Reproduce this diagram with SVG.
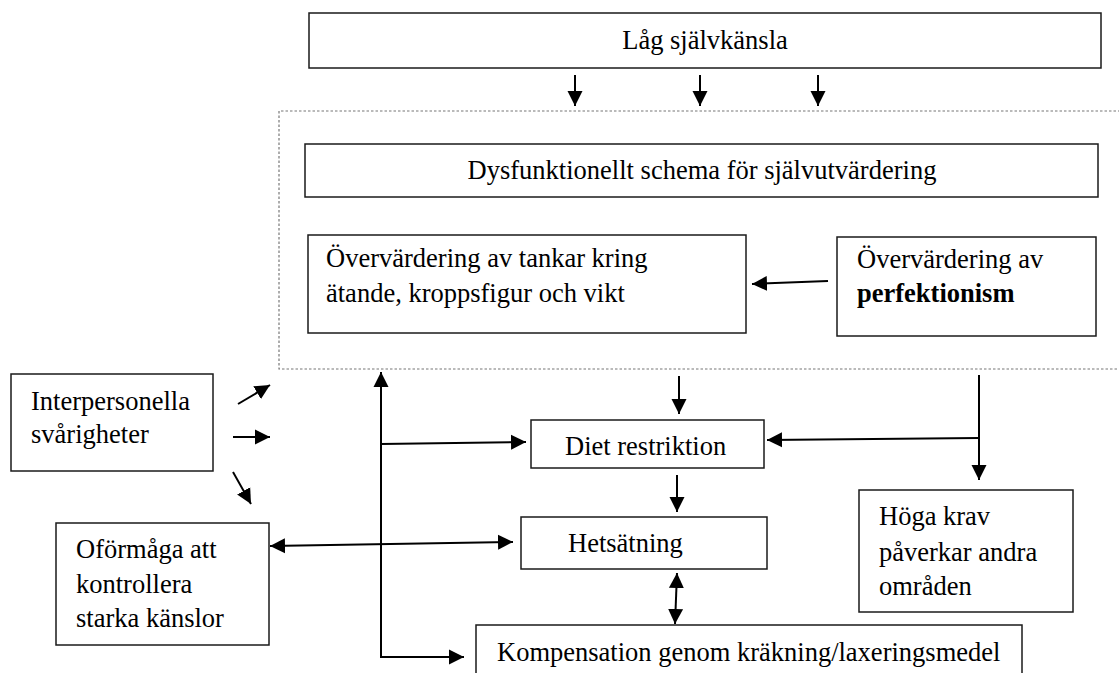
<svg xmlns="http://www.w3.org/2000/svg" width="1119" height="673" viewBox="0 0 1119 673">
<style>
.box{fill:#fff;stroke:#1a1a1a;stroke-width:1.5}
.t{font-family:"Liberation Serif","Times New Roman",serif;font-size:26.5px;fill:#000}
.c{text-anchor:middle}
.b{font-weight:bold}
.ln{fill:none;stroke:#000;stroke-width:2}
.dot{fill:none;stroke:#777;stroke-width:1.2;stroke-dasharray:2.5,2}
</style>
<defs>
<marker id="ah" markerUnits="userSpaceOnUse" markerWidth="16" markerHeight="16" viewBox="0 0 16 16" refX="15" refY="8" orient="auto">
<path d="M0,0.5 L15,8 L0,15.5 Z" fill="#000"/>
</marker>
<marker id="as" markerUnits="userSpaceOnUse" markerWidth="16" markerHeight="16" viewBox="0 0 16 16" refX="1" refY="8" orient="auto">
<path d="M16,0.5 L1,8 L16,15.5 Z" fill="#000"/>
</marker>
</defs>

<g id="group-dotted">
<path class="dot" d="M1125,111 L279,111 L279,369 L1125,369"/>
</g>

<g id="n-lag">
<rect class="box" x="309" y="13" width="792" height="55"/>
<text class="t c" x="705" y="49">Låg självkänsla</text>
</g>

<g id="n-dysf">
<rect class="box" x="305" y="144" width="793" height="53"/>
<text class="t c" x="702" y="179">Dysfunktionellt schema för självutvärdering</text>
</g>

<g id="n-overv-tankar">
<rect class="box" x="308" y="235" width="438" height="98"/>
<text class="t" x="326" y="267">Övervärdering av tankar kring</text>
<text class="t" x="326" y="302">ätande, kroppsfigur och vikt</text>
</g>

<g id="n-perf">
<rect class="box" x="837" y="237" width="259" height="99"/>
<text class="t" x="857" y="268">Övervärdering av</text>
<text class="t b" x="857" y="302">perfektionism</text>
</g>

<g id="n-inter">
<rect class="box" x="11" y="374" width="202" height="97"/>
<text class="t" x="31" y="410">Interpersonella</text>
<text class="t" x="31" y="443">svårigheter</text>
</g>

<g id="n-oform">
<rect class="box" x="56" y="523" width="213" height="122"/>
<text class="t" x="76" y="558">Oförmåga att</text>
<text class="t" x="76" y="593">kontrollera</text>
<text class="t" x="76" y="627">starka känslor</text>
</g>

<g id="n-diet">
<rect class="box" x="531" y="420" width="233" height="48"/>
<text class="t" x="565" y="455">Diet restriktion</text>
</g>

<g id="n-hets">
<rect class="box" x="521" y="517" width="246" height="52"/>
<text class="t" x="568" y="552">Hetsätning</text>
</g>

<g id="n-hoga">
<rect class="box" x="859" y="490" width="214" height="122"/>
<text class="t" x="879" y="525">Höga krav</text>
<text class="t" x="879" y="561">påverkar andra</text>
<text class="t" x="879" y="595">områden</text>
</g>

<g id="n-komp">
<rect class="box" x="476" y="625" width="546" height="60"/>
<text class="t" x="497" y="661">Kompensation genom kräkning/laxeringsmedel</text>
</g>

<g id="connectors">
<line class="ln" x1="575" y1="75" x2="575" y2="106" marker-end="url(#ah)"/>
<line class="ln" x1="700" y1="75" x2="700" y2="106" marker-end="url(#ah)"/>
<line class="ln" x1="818" y1="75" x2="818" y2="106" marker-end="url(#ah)"/>
<line class="ln" x1="828" y1="281" x2="752" y2="284" marker-end="url(#ah)"/>
<line class="ln" x1="679" y1="376" x2="679" y2="414" marker-end="url(#ah)"/>
<line class="ln" x1="677" y1="475" x2="677" y2="512" marker-end="url(#ah)"/>
<line class="ln" x1="677" y1="573" x2="675" y2="624" marker-start="url(#as)" marker-end="url(#ah)"/>
<line class="ln" x1="979" y1="375" x2="979" y2="480" marker-end="url(#ah)"/>
<line class="ln" x1="979" y1="438" x2="767" y2="440" marker-end="url(#ah)"/>
<line class="ln" x1="381" y1="657" x2="381" y2="372" marker-end="url(#ah)"/>
<line class="ln" x1="381" y1="444" x2="526" y2="442" marker-end="url(#ah)"/>
<line class="ln" x1="380" y1="657" x2="464" y2="657" marker-end="url(#ah)"/>
<line class="ln" x1="270" y1="546" x2="513" y2="542" marker-start="url(#as)" marker-end="url(#ah)"/>
<line class="ln" x1="238" y1="404" x2="270" y2="385" marker-end="url(#ah)"/>
<line class="ln" x1="233" y1="437" x2="270" y2="437" marker-end="url(#ah)"/>
<line class="ln" x1="233" y1="472" x2="251" y2="504" marker-end="url(#ah)"/>
</g>
</svg>
